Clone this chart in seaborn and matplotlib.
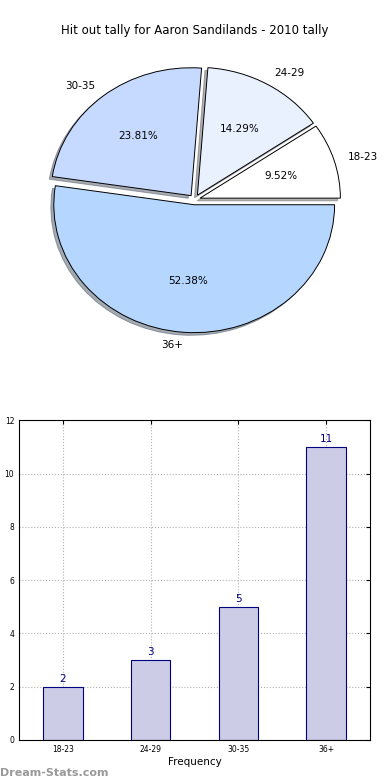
import matplotlib
matplotlib.use('Agg')
import matplotlib.pyplot as plt
import seaborn as sns
import pandas as pd

# data
age_groups = ['18-23', '24-29', '30-35', '36+']
hit_outs = [2, 3, 5, 11]
pie_colors = ['#ffffff', '#eaf1fe', '#c6d9fe', '#b5d6ff']

df = pd.DataFrame({'age': age_groups, 'tally': hit_outs})

sns.set_style('white')
plt.rcParams['font.family'] = ['DejaVu Sans']
plt.rcParams['text.color'] = 'black'
plt.rcParams['xtick.color'] = 'black'
plt.rcParams['ytick.color'] = 'black'
plt.rcParams['axes.labelcolor'] = 'black'

fig, (ax1, ax2) = plt.subplots(2, 1, figsize=(3.9, 7.8), dpi=100)
fig.subplots_adjust(left=0.049, right=0.949, top=0.949, bottom=0.0513, hspace=0.19)

# pie
wedges, texts, autotexts = ax1.pie(
    df['tally'], labels=df['age'], colors=pie_colors, explode=[0.04] * 4,
    autopct='%1.2f%%', shadow={'ox': -0.015, 'oy': -0.015, 'shade': 0.6}, startangle=0,
    wedgeprops={'edgecolor': 'black', 'linewidth': 0.7},
    textprops={'fontsize': 7.5, 'color': 'black'})
ax1.set_aspect('auto')
ax1.set_xlim(-1.25, 1.25)
ax1.set_ylim(-1.25, 1.25)
ax1.set_title('Hit out tally for Aaron Sandilands - 2010 tally', fontsize=8.5, pad=4)

# bar
sns.barplot(data=df, x='age', y='tally', color='#cccce6', saturation=1,
            width=0.45, edgecolor='navy', linewidth=0.8, ax=ax2)
for i, v in enumerate(hit_outs):
    ax2.text(i, v + 0.1, str(v), ha='center', va='bottom', color='navy', fontsize=7.5)
ax2.set_xlim(-0.5, 3.5)
ax2.set_ylim(0, 12)
ax2.set_yticks(range(0, 13, 2))
ax2.grid(True, linestyle=':', color='#b0b0b0', linewidth=0.8)
ax2.set_axisbelow(True)
ax2.tick_params(labelsize=5.5, direction='in', top=True, right=True, length=3)
for s in ax2.spines.values():
    s.set_linewidth(0.8)
    s.set_color('black')
ax2.set_xlabel('Frequency', fontsize=7.5, labelpad=2)
ax2.set_ylabel('Stat Hit Out Tally', fontsize=7.5)
ax2.yaxis.set_label_coords(-0.07, 0.5)

fig.text(0.0, 0.005, 'Dream-Stats.com', color='#999999', fontsize=8, fontweight='bold')

fig.savefig('out.png', dpi=100)
